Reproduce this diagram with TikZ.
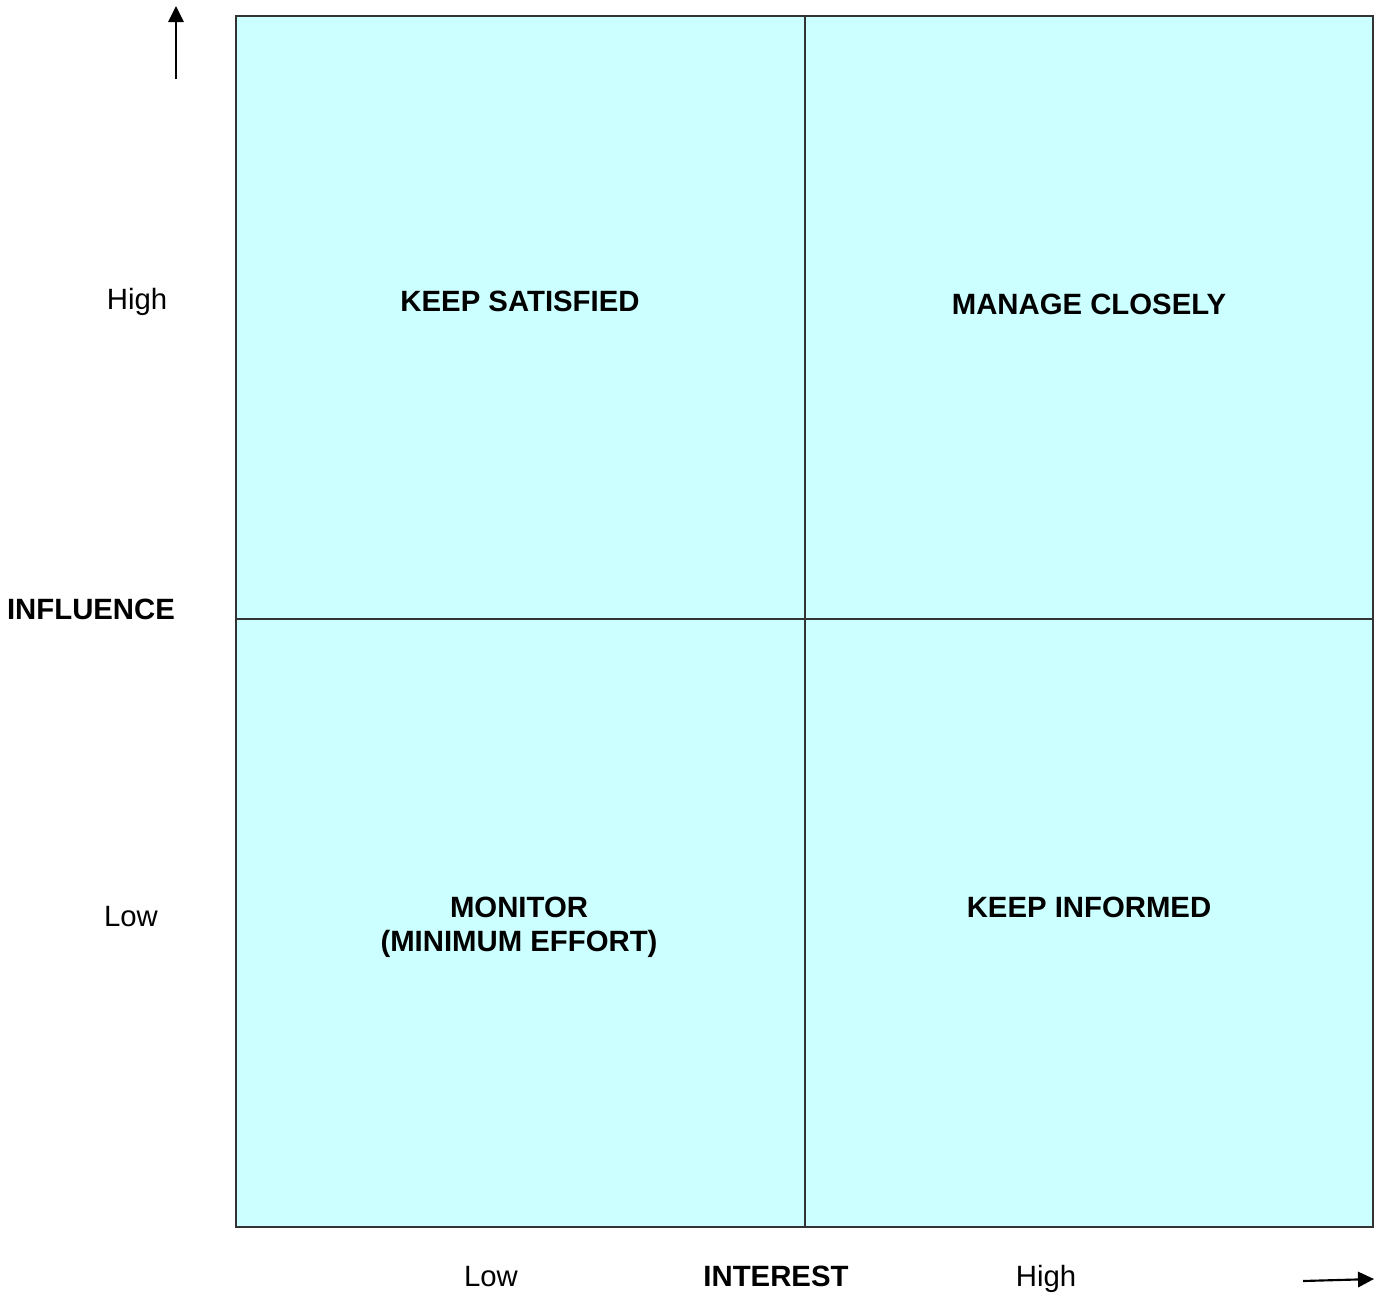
\documentclass[tikz,border=0pt]{standalone}
\usepackage{fontspec}
\setmainfont{Liberation Sans}
\usepackage{xcolor}
\usetikzlibrary{positioning,arrows.meta}
\definecolor{quadfill}{HTML}{CCFFFF}
\tikzset{quad/.style={draw=black!80, line width=0.9pt, fill=quadfill, minimum width=569*0.75pt, minimum height=604*0.75pt, inner sep=0pt, outer sep=0pt},
label/.style={font=\fontsize{22}{27}\selectfont\bfseries, align=center},
tick/.style={font=\fontsize{22}{27}\selectfont},
axisarrow/.style={line width=1.6pt, -{Triangle[length=12pt,width=11.5pt]}}}

\begin{document}
\begin{tikzpicture}[x=0.75pt,y=-0.75pt]
\useasboundingbox (0,0) rectangle (1374,1293);
%%%% quadrants
\node[quad, anchor=north west] (ks) at (236,16) {};
\node[quad, anchor=north west, minimum width=568*0.75pt] (mc) at (805,16) {};
\node[quad, anchor=north west, minimum height=608*0.75pt] (mo) at (236,619) {};
\node[quad, anchor=north west, minimum width=568*0.75pt, minimum height=608*0.75pt] (ki) at (805,619) {};
%%%% quadrant labels
\node[label] (kslab) at (520,301) {KEEP SATISFIED};
\node[label] (mclab) at (1089,304) {MANAGE CLOSELY};
\node[label] (molab) at (519,927) {MONITOR\\[-1.5pt](MINIMUM EFFORT)};
\node[label] (kilab) at (1089,907) {KEEP INFORMED};
%%%% influence axis
\node[tick] (yhigh) at (137,302) {High};
\node[tick] (ylow) at (131,917) {Low};
\node[label] (yname) at (91,609) {INFLUENCE};
\coordinate (ya) at (176,79);
\coordinate (yb) at (176,6);
\draw[axisarrow] (ya) -- (yb);
%%%% interest axis
\node[tick] (xlow) at (491,1277) {Low};
\node[label] (xname) at (776,1276) {INTEREST};
\node[tick] (xhigh) at (1046,1279) {High};
\coordinate (xa) at (1303,1281);
\coordinate (xb) at (1374,1279);
\draw[axisarrow] (xa) -- (xb);
\end{tikzpicture}
\end{document}
